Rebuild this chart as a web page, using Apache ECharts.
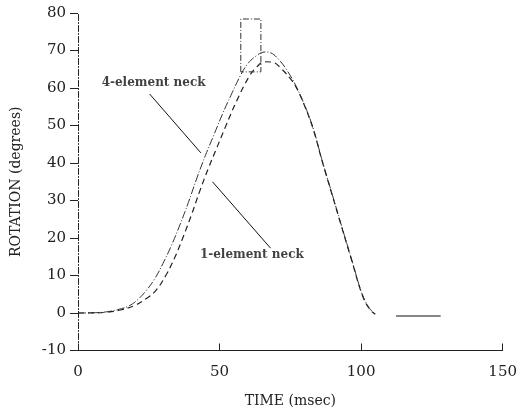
<!DOCTYPE html>
<html><head><meta charset="utf-8">
<script src="https://cdn.jsdelivr.net/npm/echarts@6/dist/echarts.min.js"></script>
<style>html,body{margin:0;padding:0;background:#fff}#c{width:520px;height:414px}</style>
</head><body><div id="c"></div>
<script>
// ---- data ----
var xTicks = [0, 50, 100, 150];
var yTicks = [-10, 0, 10, 20, 30, 40, 50, 60, 70, 80];
// 4-element neck (solid)
var time4 = [0,5,10,14,18,21,24,27,30,33,36,39,42,45,48,51,54,57.5,60,63,66,68,71,74,77,80,83,86.3,89.8,93.3,96.8,100.4,103,105];
var rot4  = [0,0.05,0.3,0.9,1.9,3.5,5.9,9,13.2,18,23.5,29.5,36,42,47.5,53,58,63.5,66.5,68.6,69.6,69.4,67.5,64.5,60.5,55.5,49.4,40.5,31.6,22.7,13.9,5,1.2,-0.3];
// 1-element neck (dashed)
var time1 = [0,5,10,15,20,24,27.4,31,34,37,40,43,46,49,52,56,60.4,63,66,69,72,75,77,80,83,86.3,89.8,93.3,96.8,100.4,103,105];
var rot1  = [0,0.02,0.2,0.8,2,3.8,5.9,10,14.5,20,26,32.5,38.5,44,49.5,56.5,63,65.5,67,66.8,65,62.5,60.3,55.3,49.2,40.3,31.4,22.5,13.7,4.8,1,-0.3];
// short tail segment
var tailTime = [112.3, 128.1];
var tailRot  = [-0.8, -0.8];
// box (rectangle outline)
var boxTime = [57.5, 57.5, 64.6, 64.6, 57.5];
var boxRot  = [64.3, 78.4, 78.4, 64.3, 64.3];
// annotations (data coordinates)
var labels = ['4-element neck', '1-element neck'];
var labelAt = [[26.7, 61.3], [61.4, 15.5]];
var leaderFrom = [[25.3, 58.4], [47.5, 35]];
var leaderTo   = [[43.4, 42.7], [68, 17.3]];

function pairs(a, b){ return a.map(function(v,i){ return [v, b[i]]; }); }

var chart = echarts.init(document.getElementById('c'), null, {renderer:'canvas'});
var serif = 'DejaVu Serif';
var ink = '#222';
chart.setOption({
  animation: false,
  backgroundColor: '#fff',
  grid: {left: 78, right: 14, top: 13, bottom: 63.5, containLabel: false},
  xAxis: {
    type: 'value', min: 0, max: 150, interval: 50,
    name: 'TIME (msec)', nameLocation: 'middle', nameGap: 44,
    nameTextStyle: {fontFamily: serif, fontSize: 14, color: ink},
    axisLine: {onZero: false, lineStyle: {color: ink, width: 1}},
    axisTick: {inside: true, length: 7, lineStyle: {color: ink}},
    axisLabel: {fontFamily: serif, fontSize: 15, color: ink, margin: 14},
    splitLine: {show: false}
  },
  yAxis: {
    type: 'value', min: -10, max: 80, interval: 10,
    name: 'ROTATION (degrees)', nameLocation: 'middle', nameGap: 55,
    nameTextStyle: {fontFamily: serif, fontSize: 14, color: ink},
    axisLine: {onZero: false, lineStyle: {color: ink, width: 1, type: [6,2,1,2]}},
    axisTick: {inside: false, length: 8, lineStyle: {color: ink}},
    axisLabel: {fontFamily: serif, fontSize: 15, color: ink, margin: 12},
    splitLine: {show: false}
  },
  series: [
    {type: 'line', name: '4-element', data: pairs(time4, rot4), smooth: 0.4, showSymbol: false,
     lineStyle: {color: '#333', width: 1, type: [8,2,1,2]}},
    {type: 'line', name: '1-element', data: pairs(time1, rot1), smooth: 0.4, showSymbol: false,
     lineStyle: {color: '#222', width: 1.2, type: [6,4]}},
    {type: 'line', name: 'tail', data: pairs(tailTime, tailRot), showSymbol: false,
     lineStyle: {color: '#111', width: 1.2}},
    {type: 'line', name: 'box', data: pairs(boxTime, boxRot), showSymbol: false,
     lineStyle: {color: '#333', width: 1, type: [6,2,1,2]}},
    {type: 'line', name: 'leader1', data: [leaderFrom[0], leaderTo[0]], showSymbol: false,
     lineStyle: {color: '#111', width: 1}},
    {type: 'line', name: 'leader2', data: [leaderFrom[1], leaderTo[1]], showSymbol: false,
     lineStyle: {color: '#111', width: 1}},
    {type: 'scatter', name: 'labels', symbolSize: 0,
     data: labelAt.map(function(p, i){ return {value: p, name: labels[i]}; }),
     label: {show: true, position: 'inside', formatter: '{b}',
       fontFamily: serif, fontSize: 12, fontWeight: 'bold', color: '#111'}}
  ]
});
</script></body></html>
